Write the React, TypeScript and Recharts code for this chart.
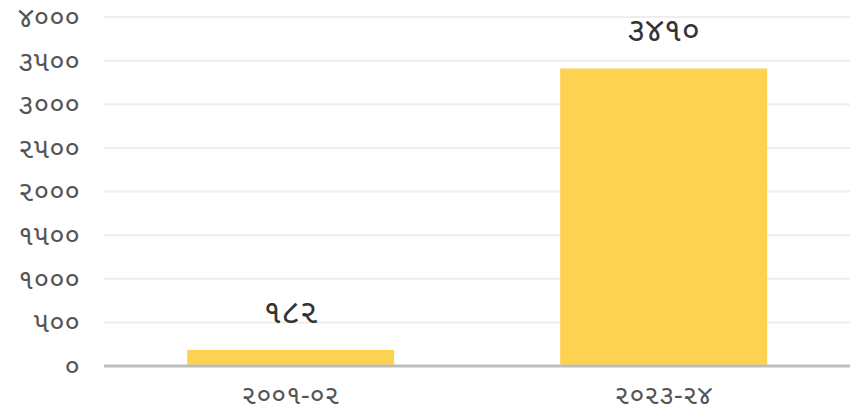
import React from "react";
import { BarChart, Bar, XAxis, YAxis, CartesianGrid, LabelList } from "recharts";

const categories = ["૨૦૦૧-૦૨", "૨૦૨૩-૨૪"];
const values = [182, 3410];
const yTicks = [0, 500, 1000, 1500, 2000, 2500, 3000, 3500, 4000];

const guDigits = ["૦", "૧", "૨", "૩", "૪", "૫", "૬", "૭", "૮", "૯"];
const toGu = (n: number | string) =>
  String(n).replace(/[0-9]/g, (d) => guDigits[Number(d)]);

const data = categories.map((c, i) => ({ name: c, value: values[i] }));

const FONT = "'Noto Sans Gujarati', 'Noto Sans', 'DejaVu Sans', sans-serif";

export default function App() {
  return (
    <div style={{ position: "absolute", left: 0, top: 0, width: 865, height: 417, background: "#fff" }}>
      <BarChart
        width={865}
        height={417}
        data={data}
        margin={{ top: 17, right: 15, bottom: 0, left: 0 }}
        barCategoryGap="22.3%"
      >
        <CartesianGrid vertical={false} stroke="#eeeeee" strokeWidth={2} />
        <XAxis
          dataKey="name"
          height={51}
          tickLine={false}
          axisLine={{ stroke: "#bdbdbd", strokeWidth: 3 }}
          tickMargin={13}
          tick={{ fill: "#555555", fontSize: 27, fontFamily: FONT }}
        />
        <YAxis
          width={104}
          domain={[0, 4000]}
          ticks={yTicks}
          interval={0}
          tickLine={false}
          axisLine={false}
          tickMargin={18}
          tickFormatter={(v) => toGu(v)}
          tick={{ fill: "#555555", fontSize: 28, fontFamily: FONT }}
        />
        <Bar dataKey="value" fill="#fdd250" isAnimationActive={false}>
          <LabelList
            dataKey="value"
            position="top"
            offset={27}
            formatter={(v: number) => toGu(v)}
            style={{ fill: "#333333", fontSize: 33, fontFamily: FONT }}
          />
        </Bar>
      </BarChart>
    </div>
  );
}
